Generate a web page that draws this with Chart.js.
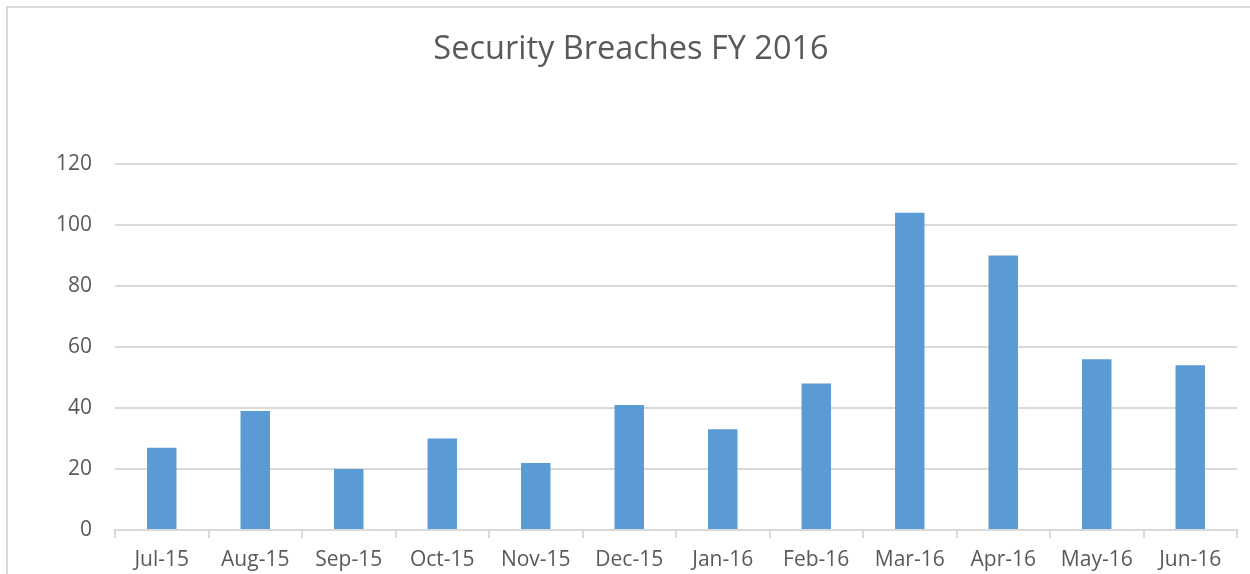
<!DOCTYPE html>
<html>
<head>
<meta charset="utf-8">
<script src="https://cdn.jsdelivr.net/npm/chart.js@4.4.0/dist/chart.umd.min.js"></script>
<style>
  html, body { margin: 0; padding: 0; background: #fff; overflow: hidden; }
  canvas { display: block; }
</style>
</head>
<body>
<canvas id="grafico" width="1250" height="574"></canvas>
<script>
// datos del grafico
const meses = ["Jul-15", "Aug-15", "Sep-15", "Oct-15", "Nov-15", "Dec-15", "Jan-16", "Feb-16", "Mar-16", "Apr-16", "May-16", "Jun-16"];
const brechas = [27, 39, 20, 30, 22, 41, 33, 48, 104, 90, 56, 54];
const titulo = "Security Breaches FY 2016";
const yMin = 0;
const yMax = 120;
const yPaso = 20;

// marco gris arriba e izquierda + titulo centrado en el marco
const marco = {
    id: "marco",
    beforeDraw(chart){
        let ctx = chart.ctx;
        ctx.save();
        ctx.strokeStyle = "#d9d9d9";
        ctx.lineWidth = 2;
        ctx.beginPath();
        ctx.moveTo(7, 700);
        ctx.lineTo(7, 7);
        ctx.lineTo(1300, 7);
        ctx.stroke();

        ctx.fillStyle = "#595959";
        ctx.font = "32.5px 'Open Sans'";
        ctx.textAlign = "center";
        ctx.textBaseline = "middle";
        ctx.fillText(titulo, 631, 50);
        ctx.restore();
    }
};

new Chart(document.getElementById("grafico"), {
    type: "bar",
    data: {
        labels: meses,
        datasets: [
            {
                label: "Security Breaches",
                backgroundColor: "#5b9bd5",
                data: brechas,
                barPercentage: 0.315,
                categoryPercentage: 1
            }
        ]
    },
    options: {
        responsive: false,
        animation: false,
        layout: { padding: { left: 0, right: 13, top: 164, bottom: 0 } },
        plugins: {
            legend: { display: false },
            tooltip: { enabled: false },
            title: { display: false }
        },
        scales: {
            x: {
                grid: {
                    drawOnChartArea: false,
                    drawTicks: true,
                    tickLength: 8,
                    color: "#d9d9d9",
                    lineWidth: 2
                },
                border: { display: true, color: "#d9d9d9", width: 2 },
                ticks: {
                    color: "#595959",
                    font: { family: "'Open Sans'", size: 21 },
                    padding: 9,
                    maxRotation: 0,
                    autoSkip: false
                },
                afterFit(scale){ scale.height = 44; }
            },
            y: {
                min: yMin,
                max: yMax,
                grid: { color: "#d9d9d9", lineWidth: 2, drawTicks: false },
                border: { display: false },
                ticks: {
                    stepSize: yPaso,
                    color: "#595959",
                    font: { family: "'Open Sans'", size: 21 },
                    padding: 23
                },
                afterFit(scale){ scale.width = 115; }
            }
        }
    },
    plugins: [marco]
});
</script>
</body>
</html>
